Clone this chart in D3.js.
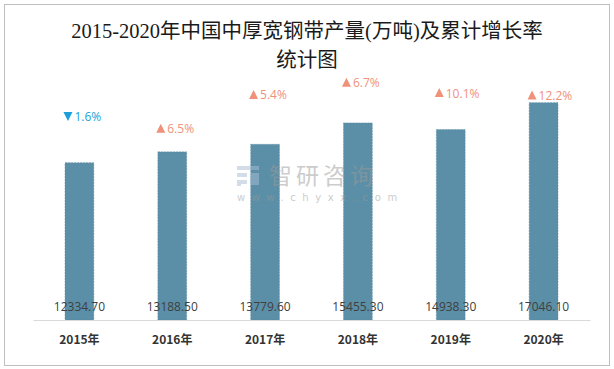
<!DOCTYPE html>
<html><head><meta charset="utf-8">
<script src="https://cdn.jsdelivr.net/npm/d3@7"></script>
<style>
html,body{margin:0;padding:0;background:#fff;}
svg{display:block;}
</style></head>
<body>
<svg id="chart" width="614" height="369"></svg>
<script>
const years = ["2015年","2016年","2017年","2018年","2019年","2020年"];
const production = [12334.70, 13188.50, 13779.60, 15455.30, 14938.30, 17046.10];
const growthRate = [1.6, 6.5, 5.4, 6.7, 10.1, 12.2];
const growthDirection = ["down","up","up","up","up","up"];
const rateLabelAnchor = [16000, 15000, 17650, 18600, 17800, 17600];
const yDomain = [0, 20000];

const svg = d3.select("#chart");

svg.append("rect").attr("x",4.5).attr("y",4.5).attr("width",605).attr("height",361)
  .attr("fill","#fff").attr("stroke","#bfbfbf").attr("stroke-width",1);

// Title
const title = svg.append("text").attr("text-anchor","middle")
  .attr("font-family","'Liberation Serif','DejaVu Serif','Noto Sans CJK SC',serif")
  .attr("font-size",20.5).attr("font-weight","normal").attr("fill","#1a1a1a");
title.append("tspan").attr("x",307).attr("y",38).text("2015-2020年中国中厚宽钢带产量(万吨)及累计增长率");
title.append("tspan").attr("x",307).attr("y",67).text("统计图");

const x = d3.scaleBand().domain(years).range([33,590]).paddingInner(0.69).paddingOuter(0.345);
const y = d3.scaleLinear().domain(yDomain).range([320,65]);

// Bars
svg.append("g").selectAll("rect").data(production).join("rect")
  .attr("x",(d,i)=>x(years[i])).attr("width",x.bandwidth())
  .attr("y",d=>y(d)).attr("height",d=>y(0)-y(d))
  .attr("fill","#5b8fa7").attr("stroke","#55879f").attr("stroke-width",0.5).attr("stroke-dasharray","2,1");

// Axis baseline
const xAxis = d3.axisBottom(x).tickSize(0).tickPadding(15);
const ax = svg.append("g").attr("transform",`translate(0,${y(0)})`).call(xAxis);
ax.select(".domain").attr("stroke","#d9d9d9").attr("stroke-width",1.2);
ax.selectAll("text").attr("font-family","'Noto Sans CJK SC','Noto Sans',sans-serif")
  .attr("font-size",12).attr("font-weight","bold").attr("fill","#333");

// Watermark (drawn over the bars)
const wm = svg.append("g").attr("opacity",0.5);
const icon = wm.append("g").attr("fill","#a9bdd6");
icon.append("rect").attr("x",237).attr("y",166).attr("width",22).attr("height",4);
icon.append("rect").attr("x",237).attr("y",173).attr("width",10).attr("height",4);
icon.append("rect").attr("x",237).attr("y",180).attr("width",10).attr("height",4);
icon.append("rect").attr("x",250).attr("y",173).attr("width",9).attr("height",12);
icon.append("rect").attr("x",237).attr("y",180).attr("width",4).attr("height",6);
wm.append("text").attr("x",269).attr("y",184).attr("font-family","'Noto Sans CJK SC',sans-serif")
  .attr("font-size",23).attr("letter-spacing",4).attr("fill","#9a9a9a").text("智研咨询");
wm.append("text").attr("x",237).attr("y",201).attr("font-family","'DejaVu Sans',sans-serif")
  .attr("font-size",10).attr("letter-spacing",6.6).attr("fill","#9a9a9a").text("www.chyxx.com");

// Value labels
svg.append("g").selectAll("text").data(production).join("text")
  .attr("x",(d,i)=>x(years[i])+x.bandwidth()/2).attr("y",311)
  .attr("text-anchor","middle").attr("font-family","'Open Sans','Noto Sans',sans-serif")
  .attr("font-size",12).attr("fill","#404040").text(d=>d.toFixed(2));

// Growth labels
const colors = {up:"#f0917a", down:"#1a9fd8"};
const gl = svg.append("g").selectAll("g").data(growthRate).join("g")
  .attr("transform",(d,i)=>`translate(${x(years[i])+x.bandwidth()/2+2},${y(rateLabelAnchor[i])})`);
gl.append("path")
  .attr("d",(d,i)=>growthDirection[i]==="up" ? "M-18,4 L-13.5,-5 L-9,4 Z" : "M-18,-4 L-13.5,5 L-9,-4 Z")
  .attr("fill",(d,i)=>colors[growthDirection[i]]);
gl.append("text").attr("x",-7).attr("y",4.5)
  .attr("font-family","'Open Sans','Noto Sans',sans-serif").attr("font-size",12)
  .attr("fill",(d,i)=>colors[growthDirection[i]]).text(d=>d.toFixed(1)+"%");
</script>
</body></html>
